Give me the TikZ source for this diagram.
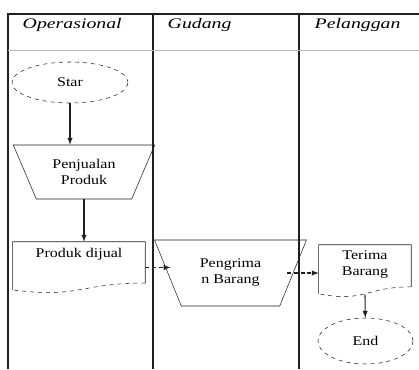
\documentclass[tikz,border=0pt]{standalone}
\usepackage{fontspec}
\setmainfont{Liberation Serif}[FakeStretch=1.2]
\newfontfamily\lanefont{Liberation Serif}[FakeStretch=1.35]
\usetikzlibrary{arrows,calc,shapes.geometric}
\definecolor{laneline}{HTML}{202020}
\definecolor{headline}{HTML}{b8b8b8}

\tikzset{
  startend/.style={draw=laneline, dashed, ellipse, thin, inner sep=0pt},
  manualop/.style={draw=laneline, thin, trapezium, shape border rotate=180,
    trapezium left angle=59, trapezium right angle=59, trapezium stretches=true,
    inner sep=0pt, align=center},
  docbox/.style={draw=none, inner sep=0pt},
  doctext/.style={anchor=north, align=center, font=\fontsize{10}{12}\selectfont},
  flow/.style={-latex, thick, draw=laneline},
  lanehead/.style={anchor=west, font=\lanefont\itshape\fontsize{11}{13}\selectfont}
}

% document shape with a wavy lower edge
\newcommand{\docoutline}[1]{%
  \draw[laneline, thin] ($(#1.north east)!0.802!(#1.south east)$) -- (#1.north east)
    -- (#1.north west) -- ($(#1.north west)!0.934!(#1.south west)$);
  \draw[laneline, thin, dashed] ($(#1.north east)!0.802!(#1.south east)$)
    .. controls ($(#1.north)!0.802!(#1.south)$) and ($(#1.north)!1.107!(#1.south)$)
    .. ($(#1.north west)!0.934!(#1.south west)$);}

\begin{document}
\begin{tikzpicture}[x=0.75pt, y=-0.75pt]
  \useasboundingbox (0,0) rectangle (419,369);
  \begin{scope}[font=\fontsize{10}{12}\selectfont]
    % lanes
    \draw[laneline, line width=0.9pt] (8,369) -- (8,14) -- (419,14);
    \draw[laneline, line width=0.9pt] (153,14) -- (153,369);
    \draw[laneline, line width=0.9pt] (299,14) -- (299,369);
    \draw[headline, thin] (8,50) -- (419,50);

    \draw (18,25) node[lanehead](opr) {Operasional};
    \draw (163,25) node[lanehead](gdg) {Gudang};
    \draw (310,25) node[lanehead](plg) {Pelanggan};

    % steps
    \draw (70,82.5) node[startend, minimum width=87pt, minimum height=30.75pt](star)
          {Star};
    \draw (84,172) node[manualop, minimum width=106.5pt, minimum height=40.5pt](penjualan)
          {Penjualan\\Produk};
    \draw (79,267.5) node[docbox, minimum width=99pt, minimum height=38.25pt,
          label={[doctext, label distance=-1pt]north:Produk dijual}](dijual) {};
    \docoutline{dijual}
    \draw (230.5,273) node[manualop, minimum width=114.75pt, minimum height=49.5pt](kirim)
          {Pengrima\\n Barang};
    \draw (365,271) node[docbox, minimum width=69pt, minimum height=39pt,
          label={[doctext, label distance=-1pt]north:Terima\\Barang}](terima) {};
    \docoutline{terima}
    \draw (365.5,341) node[startend, minimum width=71.25pt, minimum height=34.5pt](end)
          {End};

    % points on the slanted sides of kirim
    \path (kirim.center) ++(-60,0) coordinate (kirimL);
    \path (kirim.center) ++(57,0) coordinate (kirimR);

    % flow
    \draw[flow] (star) -- (star.south |- penjualan.north);
    \draw[flow] (penjualan.south) -- (penjualan.south |- dijual.north);
    \draw[flow, densely dashed] (dijual.east) -- (dijual.east -| kirimL);
    \draw[flow, densely dashed] (kirimR) -- (kirimR -| terima.west);
    \draw[flow] ($(terima.north)!0.95!(terima.south)$) -- (end);
  \end{scope}
\end{tikzpicture}
\end{document}
